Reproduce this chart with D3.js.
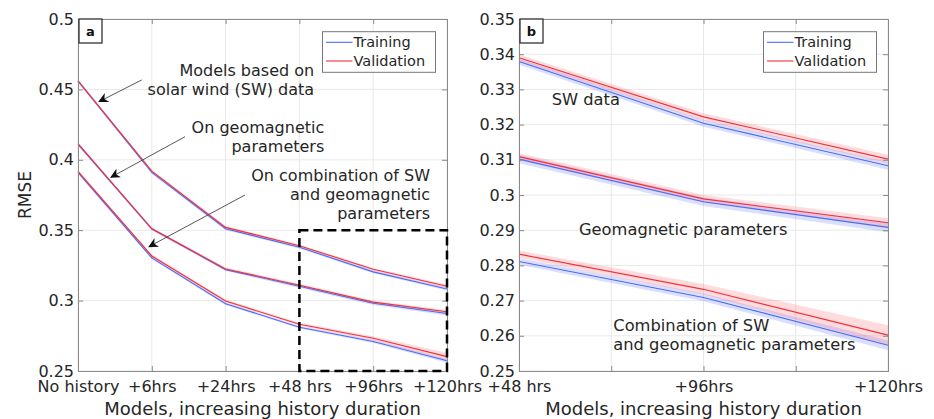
<!DOCTYPE html>
<html>
<head>
<meta charset="utf-8">
<script src="https://cdn.jsdelivr.net/npm/d3@7"></script>
<style>
  body { margin: 0; background: #fff; }
  svg { display: block; font-family: "DejaVu Sans", sans-serif; }
</style>
</head>
<body>
<svg id="chart" width="934" height="419"></svg>
<script>
// categories
const categoriesA = ["No history", "+6hrs", "+24hrs", "+48 hrs", "+96hrs", "+120hrs"];
const categoriesB = ["+48 hrs", "+96hrs", "+120hrs"];

// RMSE values (training / validation) for each model family
const swTrain   = [0.456, 0.391, 0.351, 0.3379, 0.3204, 0.3083];
const swVal     = [0.456, 0.392, 0.352, 0.3390, 0.3222, 0.3102];
const geoTrain  = [0.411, 0.351, 0.3220, 0.3102, 0.2981, 0.2908];
const geoVal    = [0.4115, 0.351, 0.3225, 0.3109, 0.2989, 0.2921];
const combTrain = [0.391, 0.3303, 0.2978, 0.2811, 0.2709, 0.2573];
const combVal   = [0.3917, 0.3317, 0.2997, 0.2832, 0.2732, 0.2602];

// spread (shaded band half width)
const swTrainSd   = [0.001, 0.001, 0.001, 0.0009, 0.001, 0.0011];
const swValSd     = [0.001, 0.001, 0.001, 0.0009, 0.001, 0.0012];
const geoTrainSd  = [0.001, 0.001, 0.001, 0.0012, 0.0012, 0.0014];
const geoValSd    = [0.001, 0.001, 0.001, 0.001, 0.0011, 0.0013];
const combTrainSd = [0.001, 0.001, 0.001, 0.0009, 0.0011, 0.0014];
const combValSd   = [0.001, 0.001, 0.001, 0.001, 0.0015, 0.0028];

const yTicksA = [0.25, 0.3, 0.35, 0.4, 0.45, 0.5];
const yTicksB = [0.25, 0.26, 0.27, 0.28, 0.29, 0.3, 0.31, 0.32, 0.33, 0.34, 0.35];

const blue = "#4a6cf7", red = "#f0323c";
const blueBand = "rgba(90,110,255,0.22)", redBand = "rgba(255,90,100,0.22)";
const textCol = "#262626", axisCol = "#8a8a8a", gridCol = "#e8e8e8";

const series = [
  { t: swTrain, v: swVal, ts: swTrainSd, vs: swValSd },
  { t: geoTrain, v: geoVal, ts: geoTrainSd, vs: geoValSd },
  { t: combTrain, v: combVal, ts: combTrainSd, vs: combValSd }
];

const svg = d3.select("#chart");

function panel(opts) {
  const { x0, x1, y0, y1, cats, start, yDomain, yTicks, xTickVals, label } = opts;
  const x = d3.scaleLinear().domain([0, cats.length - 1]).range([x0, x1]);
  const y = d3.scaleLinear().domain(yDomain).range([y1, y0]);
  const g = svg.append("g");

  // grid
  g.selectAll(".gx").data(xTickVals).join("line")
    .attr("x1", d => x(d)).attr("x2", d => x(d)).attr("y1", y0).attr("y2", y1)
    .attr("stroke", gridCol);
  g.selectAll(".gy").data(yTicks).join("line")
    .attr("x1", x0).attr("x2", x1).attr("y1", d => y(d)).attr("y2", d => y(d))
    .attr("stroke", gridCol);

  // bands + lines
  const idx = d3.range(start, start + cats.length);
  series.forEach(s => {
    [[s.t, s.ts, blueBand], [s.v, s.vs, redBand]].forEach(([vals, sd, col]) => {
      const area = d3.area()
        .x(i => x(i - start))
        .y0(i => y(vals[i] - sd[i]))
        .y1(i => y(vals[i] + sd[i]));
      g.append("path").datum(idx).attr("d", area).attr("fill", col);
    });
  });
  series.forEach(s => {
    [[s.t, blue], [s.v, red]].forEach(([vals, col]) => {
      const line = d3.line().x(i => x(i - start)).y(i => y(vals[i]));
      g.append("path").datum(idx).attr("d", line)
        .attr("fill", "none").attr("stroke", col).attr("stroke-width", 1.1);
    });
  });

  // axes (box with inward ticks)
  const yAxL = d3.axisLeft(y).tickValues(yTicks).tickSize(-5).tickPadding(4).tickFormat(d3.format("~g"));
  const yAxR = d3.axisRight(y).tickValues(yTicks).tickSize(-5).tickFormat("");
  const xAxB = d3.axisBottom(x).tickValues(xTickVals).tickSize(-5).tickPadding(10)
    .tickFormat(d => Number.isInteger(d) ? cats[d] : "");
  const xAxT = d3.axisTop(x).tickValues(xTickVals).tickSize(-5).tickFormat("");
  const axes = [
    g.append("g").attr("transform", `translate(${x0},0)`).call(yAxL),
    g.append("g").attr("transform", `translate(${x1},0)`).call(yAxR),
    g.append("g").attr("transform", `translate(0,${y1})`).call(xAxB),
    g.append("g").attr("transform", `translate(0,${y0})`).call(xAxT)
  ];
  axes.forEach(a => {
    a.selectAll("path,line").attr("stroke", axisCol);
    a.selectAll("text").attr("fill", textCol).attr("font-size", 16)
      .attr("font-family", "DejaVu Sans");
  });

  // panel letter
  g.append("rect").attr("x", x0 + 1).attr("y", y0).attr("width", 23).attr("height", 24)
    .attr("fill", "#fff").attr("stroke", "#333").attr("stroke-width", 1.3);
  g.append("text").attr("x", x0 + 12.5).attr("y", y0 + 12.5)
    .attr("text-anchor", "middle").attr("dominant-baseline", "central")
    .attr("font-size", 13).attr("font-weight", "bold").attr("fill", "#111").text(label);

  // legend
  const lx = x1 - 124.5, ly = y0 + 12.7;
  g.append("rect").attr("x", lx).attr("y", ly).attr("width", 113).attr("height", 40.6)
    .attr("fill", "#fff").attr("stroke", "#777");
  [["Training", blue], ["Validation", red]].forEach(([name, col], i) => {
    const yy = ly + 10.6 + i * 18.7;
    g.append("line").attr("x1", lx + 3.5).attr("x2", lx + 30).attr("y1", yy).attr("y2", yy)
      .attr("stroke", col).attr("stroke-width", 1.1);
    g.append("text").attr("x", lx + 31).attr("y", yy).attr("dominant-baseline", "central")
      .attr("font-size", 14.5).attr("fill", textCol).text(name);
  });

  // x label
  g.append("text").attr("x", (x0 + x1) / 2).attr("y", 408)
    .attr("text-anchor", "middle").attr("dominant-baseline", "central")
    .attr("font-size", 18).attr("fill", textCol).text("Models, increasing history duration");

  return { g, x, y };
}

const A = panel({
  x0: 78, x1: 447, y0: 19, y1: 371, cats: categoriesA, start: 0,
  yDomain: [0.25, 0.5], yTicks: yTicksA, xTickVals: [0, 1, 2, 3, 4, 5], label: "a"
});
const B = panel({
  x0: 519, x1: 888, y0: 19, y1: 371, cats: categoriesB, start: 3,
  yDomain: [0.25, 0.35], yTicks: yTicksB, xTickVals: [0, 0.5, 1, 1.5, 2], label: "b"
});

// y label
svg.append("text").attr("transform", "translate(25,195) rotate(-90)")
  .attr("text-anchor", "middle").attr("dominant-baseline", "central")
  .attr("font-size", 17).attr("fill", textCol).text("RMSE");

// zoom box in panel a
A.g.append("rect")
  .attr("x", A.x(3)).attr("y", A.y(0.35))
  .attr("width", A.x(5) - A.x(3)).attr("height", A.y(0.25) - A.y(0.35))
  .attr("fill", "none").attr("stroke", "#000").attr("stroke-width", 2.5)
  .attr("stroke-dasharray", "9,5");

// annotations panel a (data coordinates)
const notesA = [
  { lines: ["Models based on", "solar wind (SW) data"], x: 3.2, y: 0.4631, tail: [0.863, 0.4567], head: [0.285, 0.4413] },
  { lines: ["On geomagnetic", "parameters"], x: 3.337, y: 0.4228, tail: [1.45, 0.4164], head: [0.447, 0.3876] },
  { lines: ["On combination of SW", "and geomagnetic", "parameters"], x: 4.77, y: 0.3887, tail: [2.263, 0.375], head: [0.962, 0.3383] }
];
const defs = svg.append("defs");
defs.append("marker").attr("id", "arr").attr("viewBox", "0 0 10 10")
  .attr("refX", 9).attr("refY", 5).attr("markerWidth", 10).attr("markerHeight", 10)
  .attr("markerUnits", "userSpaceOnUse").attr("orient", "auto")
  .append("path").attr("d", "M0,0 L10,5 L0,10 L3,5 Z").attr("fill", "#111");

notesA.forEach(n => {
  const t = A.g.append("text").attr("text-anchor", "end").attr("font-size", 16).attr("fill", textCol);
  n.lines.forEach((l, i) => {
    t.append("tspan").attr("x", A.x(n.x)).attr("y", A.y(n.y) + i * 19)
      .attr("dominant-baseline", "central").text(l);
  });
  A.g.append("line")
    .attr("x1", A.x(n.tail[0])).attr("y1", A.y(n.tail[1]))
    .attr("x2", A.x(n.head[0])).attr("y2", A.y(n.head[1]))
    .attr("stroke", "#444").attr("stroke-width", 0.9).attr("marker-end", "url(#arr)");
});

// annotations panel b
const notesB = [
  { lines: ["SW data"], x: 0.177, y: 0.327 },
  { lines: ["Geomagnetic parameters"], x: 0.325, y: 0.2903 },
  { lines: ["Combination of SW", "and geomagnetic parameters"], x: 0.511, y: 0.2629 }
];
notesB.forEach(n => {
  const t = B.g.append("text").attr("font-size", 16.3).attr("fill", textCol);
  n.lines.forEach((l, i) => {
    t.append("tspan").attr("x", B.x(n.x)).attr("y", B.y(n.y) + i * 19)
      .attr("dominant-baseline", "central").text(l);
  });
});
</script>
</body>
</html>
